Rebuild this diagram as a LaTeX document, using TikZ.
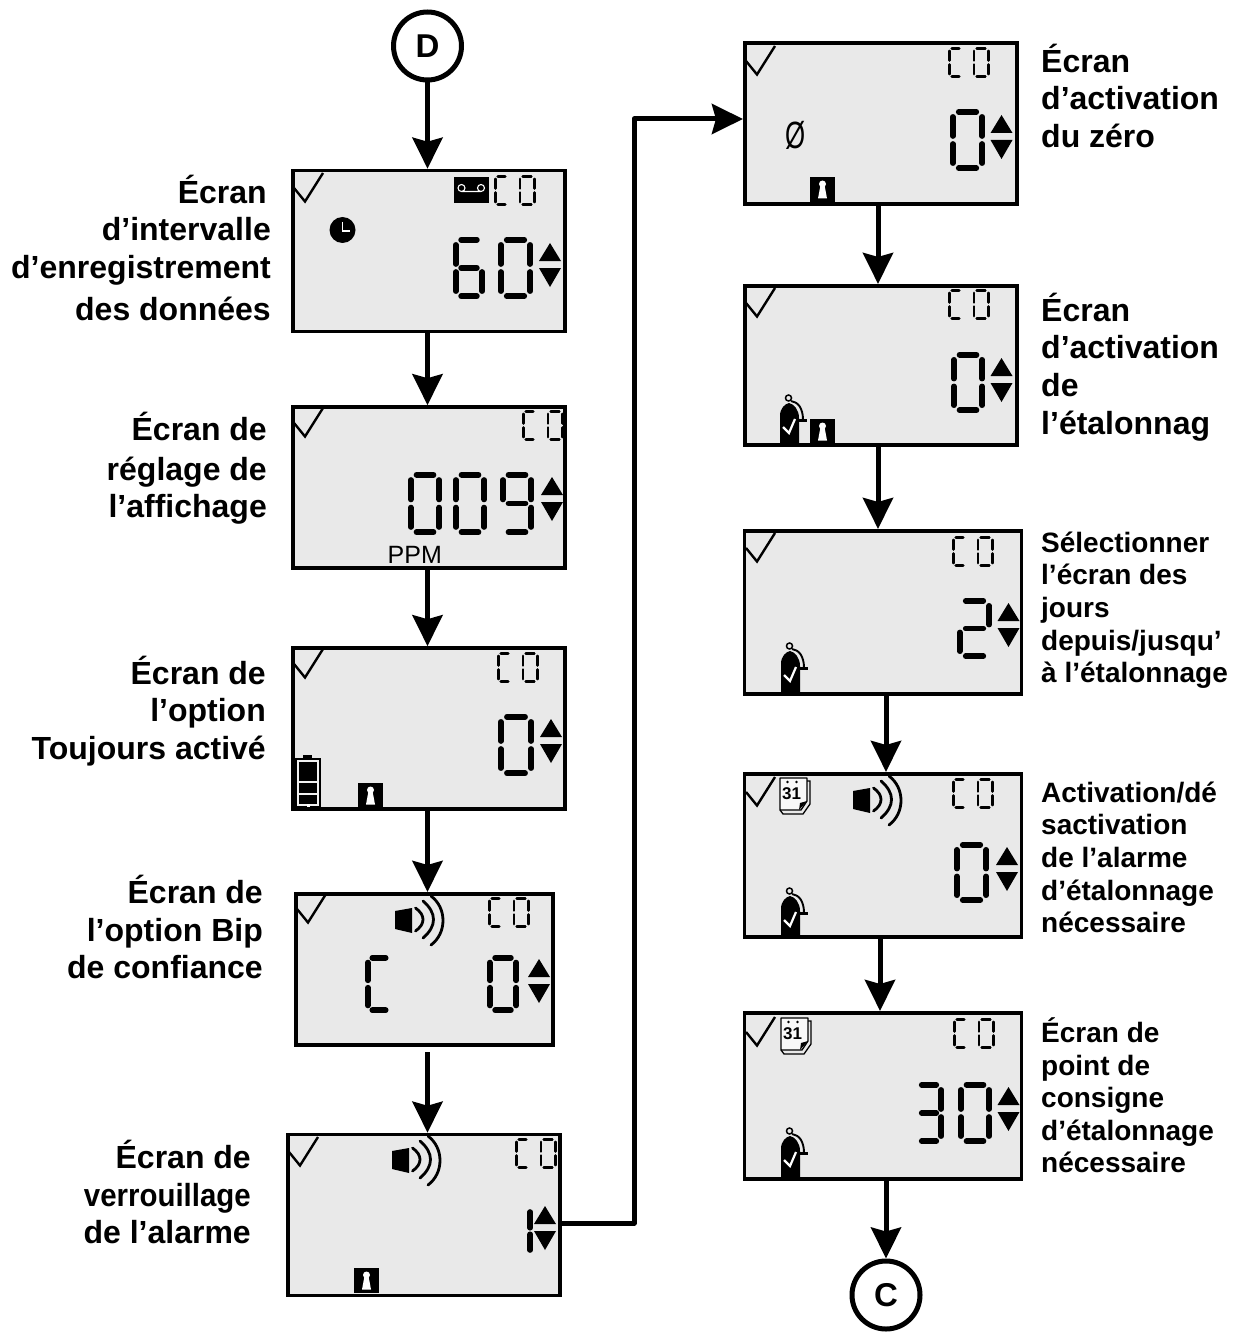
\documentclass[tikz,border=0pt]{standalone}
\usepackage{fontspec}
\setmainfont{Liberation Sans}
\usepackage{xcolor}
\usetikzlibrary{arrows.meta}
\definecolor{lcdgray}{HTML}{E9E9E9}

% One seven-segment digit: left, top, width, height, segments
\def\lcdlw{5.6}
\newcommand{\lcdsega}{\draw[lcdseg] (.2,0) -- (.8,0);}
\newcommand{\lcdsegb}{\draw[lcdseg] (1,.09) -- (1,.43);}
\newcommand{\lcdsegc}{\draw[lcdseg] (1,.57) -- (1,.91);}
\newcommand{\lcdsegd}{\draw[lcdseg] (.2,1) -- (.8,1);}
\newcommand{\lcdsege}{\draw[lcdseg] (0,.57) -- (0,.91);}
\newcommand{\lcdsegf}{\draw[lcdseg] (0,.09) -- (0,.43);}
\newcommand{\lcdsegg}{\draw[lcdseg] (.2,.5) -- (.8,.5);}
\newcommand{\lcddigit}[5]{%
  \pgfmathsetmacro\lcdw{#3-\lcdlw}%
  \pgfmathsetmacro\lcdh{#4-\lcdlw}%
  \begin{scope}[shift={(#1+\lcdlw/2,#2+\lcdlw/2)},x=\lcdw pt,y=-\lcdh pt]
    \foreach \s in {#5} {\csname lcdseg\s\endcsname}
  \end{scope}}
\newcommand{\lcdco}[2]{%
  \begin{scope}
    \def\lcdlw{2.6}
    \lcddigit{#1}{#2}{15}{31}{a,d,e,f}
    \lcddigit{#1+24.5}{#2}{17}{31}{a,b,c,d,e,f}
  \end{scope}}

\tikzset{
  lcdseg/.style={line width=\lcdlw pt, line cap=round},
  lcdcheck/.pic={\draw[line width=2.4pt] (0,0) -- (11,13.5) -- (29,-15);},
  lcdupdown/.pic={
    \fill (11,0) -- (22,18) -- (0,18) -- cycle;
    \fill (0,25) -- (22,25) -- (11,44) -- cycle;
  },
  lcdlock/.pic={
    \fill (0,0) rectangle (25,25);
    \fill[white] (12.5,7) circle (3.5);
    \fill[white] (10.5,8) -- (14.5,8) -- (17,21.5) -- (8,21.5) -- cycle;
  },
  lcdspeaker/.pic={
    \fill (0,3) -- (17,0) -- (17,25) -- (0,21) -- cycle;
    \draw[line width=2.8pt, line cap=round] (20.5,0) .. controls (30.5,7) and (30.5,16) .. (20.5,23);
    \draw[line width=2.8pt, line cap=round] (28,-7) .. controls (42,5) and (42,18) .. (28,30);
    \draw[line width=2.8pt, line cap=round] (36,-12) .. controls (52,0) and (52,25) .. (36,37);
  },
  lcdbottle/.pic={
    \fill (0,0) -- (0,-28) .. controls (0,-36) and (5,-40) .. (9,-41) .. controls (14,-40) and (19,-34) .. (19,-26) -- (19,0) -- cycle;
    \draw[line width=1.5pt] (8.5,-46) circle (3);
    \draw[line width=1.9pt] (11,-43) .. controls (18,-42) and (23,-36) .. (23,-24);
    \draw[line width=2.2pt] (18,-23.5) -- (27,-23.5);
    \draw[white, line width=2.2pt] (3,-17) -- (9,-11) -- (15,-25);
  },
  lcdcalendar/.pic={
    \draw[line width=1.3pt, fill=lcdgray!30!white, line join=round] (2,0) -- (2,32) -- (23,32) -- (29,23) -- (29,0) -- cycle;
    \draw[line width=1.3pt] (2,32) -- (5,36) -- (25,36) -- (32,26) -- (32,3) -- (29,3);
    \fill (21,32) -- (22,25) -- (29,23) -- cycle;
    \fill (9.5,4) circle (1.4) (18.5,4) circle (1.4);
    \node[font=\bfseries\fontsize{17}{17}\selectfont, inner sep=0] (calday) at (13.5,15.5) {31};
  }
}

\begin{document}
\begin{tikzpicture}[
    x=1pt, y=-1pt,
    lcdbox/.style={draw, line width=3.6pt, fill=lcdgray, inner sep=0, minimum width=272.5pt, minimum height=161pt},
    terminal/.style={draw, circle, line width=5pt, fill=white, inner sep=0, minimum size=68pt, font=\bfseries\fontsize{33}{33}\selectfont},
    flow/.style={line width=5pt, line join=round, -{Stealth[length=31pt,width=30pt,inset=4pt]}},
    biglabel/.style={inner sep=0, align=right, anchor=north east, font=\bfseries\fontsize{32}{37}\selectfont},
    biglabelr/.style={inner sep=0, align=left, anchor=north west, font=\bfseries\fontsize{32}{37}\selectfont},
    smalllabel/.style={inner sep=0, align=left, anchor=north west, font=\bfseries\fontsize{28}{32.6}\selectfont}
]
    \useasboundingbox (0,0) rectangle (1239,1332);

    % Start and end
    \node[terminal] (startD) at (427.5,46) {D};
    \node[terminal] (endC) at (886,1295) {C};

    % Left column screens
    \node[lcdbox] (lcdlog) at (429,251) {};
    \node[lcdbox] (lcddisplay) at (429,487.5) {};
    \node[lcdbox] (lcdalways) at (429,728.5) {};
    \node[lcdbox, minimum width=257.5pt, minimum height=151.5pt] (lcdbeep) at (424.5,969.5) {};
    \node[lcdbox] (lcdlatch) at (424,1215) {};

    % Right column screens
    \node[lcdbox] (lcdzero) at (881,123.5) {};
    \node[lcdbox, minimum height=159.5pt] (lcdcal) at (881,365.5) {};
    \node[lcdbox, minimum width=277pt, minimum height=163.5pt] (lcddays) at (883,612.5) {};
    \node[lcdbox, minimum width=277pt, minimum height=163.5pt] (lcdreq) at (883,855.5) {};
    \node[lcdbox, minimum width=277pt, minimum height=166.5pt] (lcdset) at (883,1096) {};

    % Connectors
    \coordinate (axisA) at (878,0);
    \coordinate (axisB) at (880,0);
    \coordinate (corner) at (634,1223);
    \coordinate (entry) at (634,119);
    \draw[flow] (startD.south) -- (startD.south |- lcdlog.north);
    \draw[flow] (lcdlog.south -| startD) -- (lcddisplay.north -| startD);
    \draw[flow] (lcddisplay.south -| startD) -- (lcdalways.north -| startD);
    \draw[flow] (lcdalways.south -| startD) -- (lcdbeep.north -| startD);
    \draw[flow, shorten <=5pt] (lcdbeep.south -| startD) -- (lcdlatch.north -| startD);
    \draw[flow] (lcdlatch.east |- corner) -- (corner) -- (entry) -- (entry -| lcdzero.west);
    \draw[flow] (lcdzero.south -| axisA) -- (lcdcal.north -| axisA);
    \draw[flow] (lcdcal.south -| axisA) -- (lcddays.north -| axisA);
    \draw[flow] (lcddays.south -| endC) -- (lcdreq.north -| endC);
    \draw[flow] (lcdreq.south -| axisB) -- (lcdset.north -| axisB);
    \draw[flow] (lcdset.south -| endC) -- (endC.north);

    % Left labels
    \node[biglabel] (textlog) at (271,175) {Écran\hspace*{4pt}\\d’intervalle\\[1pt]d’enregistrement\\[5pt]des données};
    \node[biglabel] (textdisplay) at (267,412) {Écran de\\[3pt]réglage de\\l’affichage};
    \node[biglabel] (textalways) at (266,656) {Écran de\\l’option\\[1pt]Toujours activé};
    \node[biglabel] (textbeep) at (263,875) {Écran de\\[1pt]l’option Bip\\de confiance};
    \node[biglabel] (textlatch) at (251,1140) {Écran de\\[1pt]\scalebox{.92}[1]{verrouillage}\\de l’alarme};

    % Right labels
    \node[biglabelr] (textzero) at (1041,44) {Écran\\d’activation\\[1pt]du zéro};
    \node[biglabelr] (textcal) at (1041,293) {Écran\\d’activation\\[1pt]de\\[1pt]l’étalonnag};
    \node[smalllabel] (textdays) at (1041,531.5) {Sélectionner\\l’écran des\\jours\\depuis/jusqu’\\à l’étalonnage};
    \node[smalllabel] (textreq) at (1041,781.5) {Activation/dé\\sactivation\\de l’alarme\\d’étalonnage\\nécessaire};
    \node[smalllabel] (textset) at (1041,1017.5) {Écran de\\point de\\consigne\\d’étalonnage\\nécessaire};

    % Data logging screen
    \pic at (294,188) {lcdcheck};
    \fill (454,177) rectangle (489,203);
    \draw[white, line width=1.1pt] (461.5,188) circle (3.5) (481,188) circle (3.5) (461.5,191.5) -- (481,191.5);
    \lcdco{494}{175}
    \fill (342.5,230) circle (13);
    \draw[white, line width=1.4pt] (342.5,222) -- (342.5,231) -- (349.5,231);
    \lcddigit{453}{237}{32}{62}{a,c,d,e,f,g}
    \lcddigit{498}{237}{35}{62}{a,b,c,d,e,f}
    \pic at (539,243) {lcdupdown};

    % Display screen
    \pic at (294,423) {lcdcheck};
    \lcdco{522}{410}
    \lcddigit{408}{472}{34}{63}{a,b,c,d,e,f}
    \lcddigit{453}{472}{34}{63}{a,b,c,d,e,f}
    \lcddigit{500}{472}{34}{63}{a,b,c,d,f,g}
    \pic at (541,477) {lcdupdown};
    \node[inner sep=0, anchor=base west, font=\fontsize{25}{25}\selectfont] (unitppm) at (387.5,563.5) {PPM};

    % Always-on screen
    \pic at (294,664) {lcdcheck};
    \lcdco{497}{652}
    \lcddigit{498}{714}{36}{62}{a,b,c,d,e,f}
    \pic at (540,719) {lcdupdown};
    \fill (303,755) rectangle (312,759);
    \fill (295,758) rectangle (321,807);
    \draw[line width=1.4pt, draw=lcdgray!60!white] (298,761) rectangle (318,805);
    \draw[line width=1.8pt, draw=lcdgray!60!white] (298,782) -- (318,782) (298,794) -- (318,794);
    \fill[white] (306.5,804) rectangle (309.5,807);
    \pic at (358,783) {lcdlock};

    % Confidence beep screen
    \pic at (297,909) {lcdcheck};
    \pic at (395,908) {lcdspeaker};
    \lcdco{488}{897}
    \lcddigit{365}{955}{28}{58}{a,d,e,f}
    \lcddigit{487}{955}{32}{58}{a,b,c,d,e,f}
    \pic at (528,959) {lcdupdown};

    % Alarm latch screen
    \pic at (289,1152) {lcdcheck};
    \pic at (392,1148) {lcdspeaker};
    \lcdco{515}{1138}
    \lcddigit{504}{1205}{29}{52}{b,c}
    \pic at (534,1206) {lcdupdown};
    \pic at (354,1268) {lcdlock};

    % Zero enable screen
    \pic at (746,61) {lcdcheck};
    \lcdco{948}{47}
    \node[inner sep=0, font=\fontsize{38}{38}\selectfont] (zeroglyph) at (796,135) {\scalebox{.68}[1]{Ø}};
    \lcddigit{950}{109}{35}{62}{a,b,c,d,e,f}
    \pic at (990.5,115) {lcdupdown};
    \pic at (810,177) {lcdlock};

    % Calibration enable screen
    \pic at (746,303) {lcdcheck};
    \lcdco{948}{289}
    \lcddigit{951}{352}{34}{61}{a,b,c,d,e,f}
    \pic at (990.5,358) {lcdupdown};
    \pic at (780,444) {lcdbottle};
    \pic at (810,419) {lcdlock};

    % Days screen
    \pic at (746,548) {lcdcheck};
    \lcdco{952}{536}
    \lcddigit{957}{598}{35}{61}{a,b,d,e,g}
    \pic at (997.5,603) {lcdupdown};
    \pic at (781,692) {lcdbottle};

    % Required alarm screen
    \pic at (746,792) {lcdcheck};
    \pic at (778,778) {lcdcalendar};
    \pic at (853,788) {lcdspeaker};
    \lcdco{952}{778}
    \lcddigit{954}{842}{35}{61}{a,b,c,d,e,f}
    \pic at (996,847) {lcdupdown};
    \pic at (781,937) {lcdbottle};

    % Set point screen
    \pic at (746,1032) {lcdcheck};
    \pic at (779,1018) {lcdcalendar};
    \lcdco{953}{1018}
    \lcddigit{914}{1082}{30}{62}{a,b,c,d,g}
    \lcddigit{958}{1082}{34}{62}{a,b,c,d,e,f}
    \pic at (997.5,1087) {lcdupdown};
    \pic at (781,1177) {lcdbottle};
\end{tikzpicture}
\end{document}
